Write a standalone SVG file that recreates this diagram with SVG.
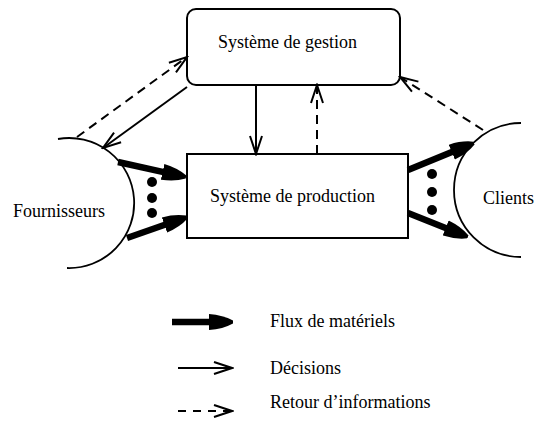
<svg xmlns="http://www.w3.org/2000/svg" width="535" height="421" viewBox="0 0 535 421">
<style>
.t{font-family:"Liberation Serif","Times New Roman",serif;font-size:18px;fill:#000}
.box{fill:#fff;stroke:#000;stroke-width:2}
.arc{fill:none;stroke:#000;stroke-width:1.8}
.thick{stroke:#000;stroke-width:6.5;fill:none}
.thin{stroke:#000;stroke-width:2;fill:none}
.dash{stroke:#000;stroke-width:2;fill:none;stroke-dasharray:9 6}
.dot{fill:#000}
</style>
<defs>
<marker id="big" viewBox="0 -9 24 18" markerWidth="24" markerHeight="18" refX="8" refY="0" orient="auto" markerUnits="userSpaceOnUse">
<path d="M0,-8 Q14,-7 24,-1.5 L24,1.5 Q14,7 0,8 Z" fill="#000"/>
</marker>
<marker id="open" viewBox="-20 -8 22 16" markerWidth="22" markerHeight="16" refX="0" refY="0" orient="auto" markerUnits="userSpaceOnUse">
<path d="M-18,-6 L0,0 L-18,6" fill="none" stroke="#000" stroke-width="2"/>
</marker>
</defs>

<g id="gestion">
<rect class="box" x="187" y="9" width="213" height="76" rx="9"/>
<text class="t" x="218" y="48">Système de gestion</text>
</g>

<g id="production">
<rect class="box" x="187" y="154" width="221" height="84"/>
<text class="t" x="210" y="202">Système de production</text>
</g>

<g id="fournisseurs">
<path class="arc" d="M58,139 A65,65 0 1 1 67,268"/>
<text class="t" x="13" y="217">Fournisseurs</text>
</g>

<g id="clients">
<path class="arc" d="M521,123 A67,67 0 1 0 521,257"/>
<text class="t" x="483" y="204">Clients</text>
</g>

<g id="connectors">
<line class="thick" x1="118" y1="162" x2="170.4" y2="173.6" marker-end="url(#big)"/>
<line class="thick" x1="127" y1="238" x2="172" y2="222.3" marker-end="url(#big)"/>
<line class="thick" x1="408" y1="170" x2="459.2" y2="149.1" marker-end="url(#big)"/>
<line class="thick" x1="408" y1="213" x2="453.1" y2="231" marker-end="url(#big)"/>
<circle class="dot" cx="152" cy="182" r="5"/>
<circle class="dot" cx="152" cy="198" r="5"/>
<circle class="dot" cx="152" cy="213" r="5"/>
<circle class="dot" cx="432" cy="174" r="5"/>
<circle class="dot" cx="432" cy="192" r="5"/>
<circle class="dot" cx="432" cy="210" r="5"/>
<line class="thin" x1="187" y1="87" x2="103" y2="148" marker-end="url(#open)"/>
<line class="dash" x1="77" y1="137" x2="187" y2="57" marker-end="url(#open)"/>
<line class="dash" x1="483" y1="130" x2="400" y2="77" marker-end="url(#open)"/>
<line class="thin" x1="256" y1="85" x2="256" y2="154" marker-end="url(#open)"/>
<line class="dash" x1="317" y1="154" x2="317" y2="85" marker-end="url(#open)"/>
</g>

<g id="legende">
<line class="thick" x1="172" y1="322" x2="217" y2="322" marker-end="url(#big)"/>
<text class="t" x="270" y="327">Flux de matériels</text>
<line class="thin" x1="178" y1="368" x2="232" y2="368" marker-end="url(#open)"/>
<text class="t" x="270" y="374">Décisions</text>
<line class="dash" x1="178" y1="411" x2="232" y2="411" style="stroke-dasharray:8 7" marker-end="url(#open)"/>
<text class="t" x="270" y="408">Retour d’informations</text>
</g>
</svg>
